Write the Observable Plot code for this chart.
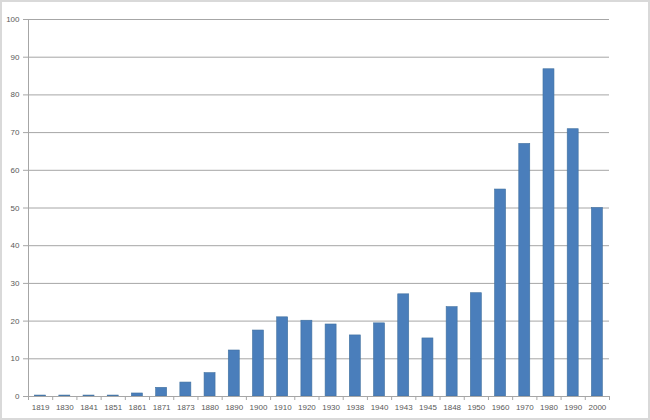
<!DOCTYPE html>
<html>
<head>
<meta charset="utf-8">
<script src="https://cdn.jsdelivr.net/npm/d3@7"></script>
<script src="https://cdn.jsdelivr.net/npm/@observablehq/plot@0.6"></script>
<style>
  html, body { margin: 0; padding: 0; background: #fff; }
  #wrap { position: relative; width: 650px; height: 420px; overflow: hidden; }
  #wrap svg { position: absolute; left: 0; top: 0; }
  #border { position: absolute; left: 0; top: 0; width: 650px; height: 420px; box-sizing: border-box; border: 2px solid #d9d9d9; pointer-events: none; }
</style>
</head>
<body>
<div id="wrap"><div id="border"></div></div>
<script>
const years = ["1819","1830","1841","1851","1861","1871","1873","1880","1890","1900","1910","1920","1930","1938","1940","1943","1945","1848","1950","1960","1970","1980","1990","2000"];
const values = [0.25,0.25,0.25,0.25,0.8,2.3,3.7,6.2,12.2,17.5,21,20.1,19.1,16.2,19.4,27.1,15.4,23.7,27.4,54.9,67,86.8,70.9,50];
const yTicks = [0,10,20,30,40,50,60,70,80,90,100];

const data = years.map((year, i) => ({i, year, value: values[i]}));
const boundaries = d3.range(years.length + 1);
const centers = years.map((_, i) => i + 0.5);

const chart = Plot.plot({
  width: 650,
  height: 420,
  marginLeft: 28,
  marginRight: 41,
  marginTop: 19,
  marginBottom: 24,
  style: {fontFamily: "'Liberation Sans', Arial, sans-serif", fontSize: "8px", color: "#595959", background: "transparent"},
  x: {type: "linear", domain: [0, years.length], axis: null},
  y: {domain: [0, 100], axis: null},
  marks: [
    Plot.ruleY(yTicks.slice(1), {stroke: "#a6a6a6", strokeWidth: 1}),
    Plot.rectY(data, {x1: d => d.i + 0.273, x2: d => d.i + 0.727, y: "value", fill: "#4a7ebb", stroke: "#41719f", strokeWidth: 0.6}),
    Plot.ruleY([0], {stroke: "#a6a6a6"}),
    Plot.ruleX([0], {stroke: "#a6a6a6"}),
    Plot.axisY({ticks: yTicks, tickSize: 5, tickPadding: 4, stroke: "#a6a6a6", fill: "#595959", label: null}),
    Plot.axisX({ticks: boundaries, tickSize: 4, tickFormat: () => "", stroke: "#a6a6a6", label: null}),
    Plot.axisX({ticks: centers, tickSize: 0, tickPadding: 8, tickFormat: d => years[Math.floor(d)], fill: "#595959", label: null})
  ]
});
document.getElementById("wrap").prepend(chart);
</script>
</body>
</html>
